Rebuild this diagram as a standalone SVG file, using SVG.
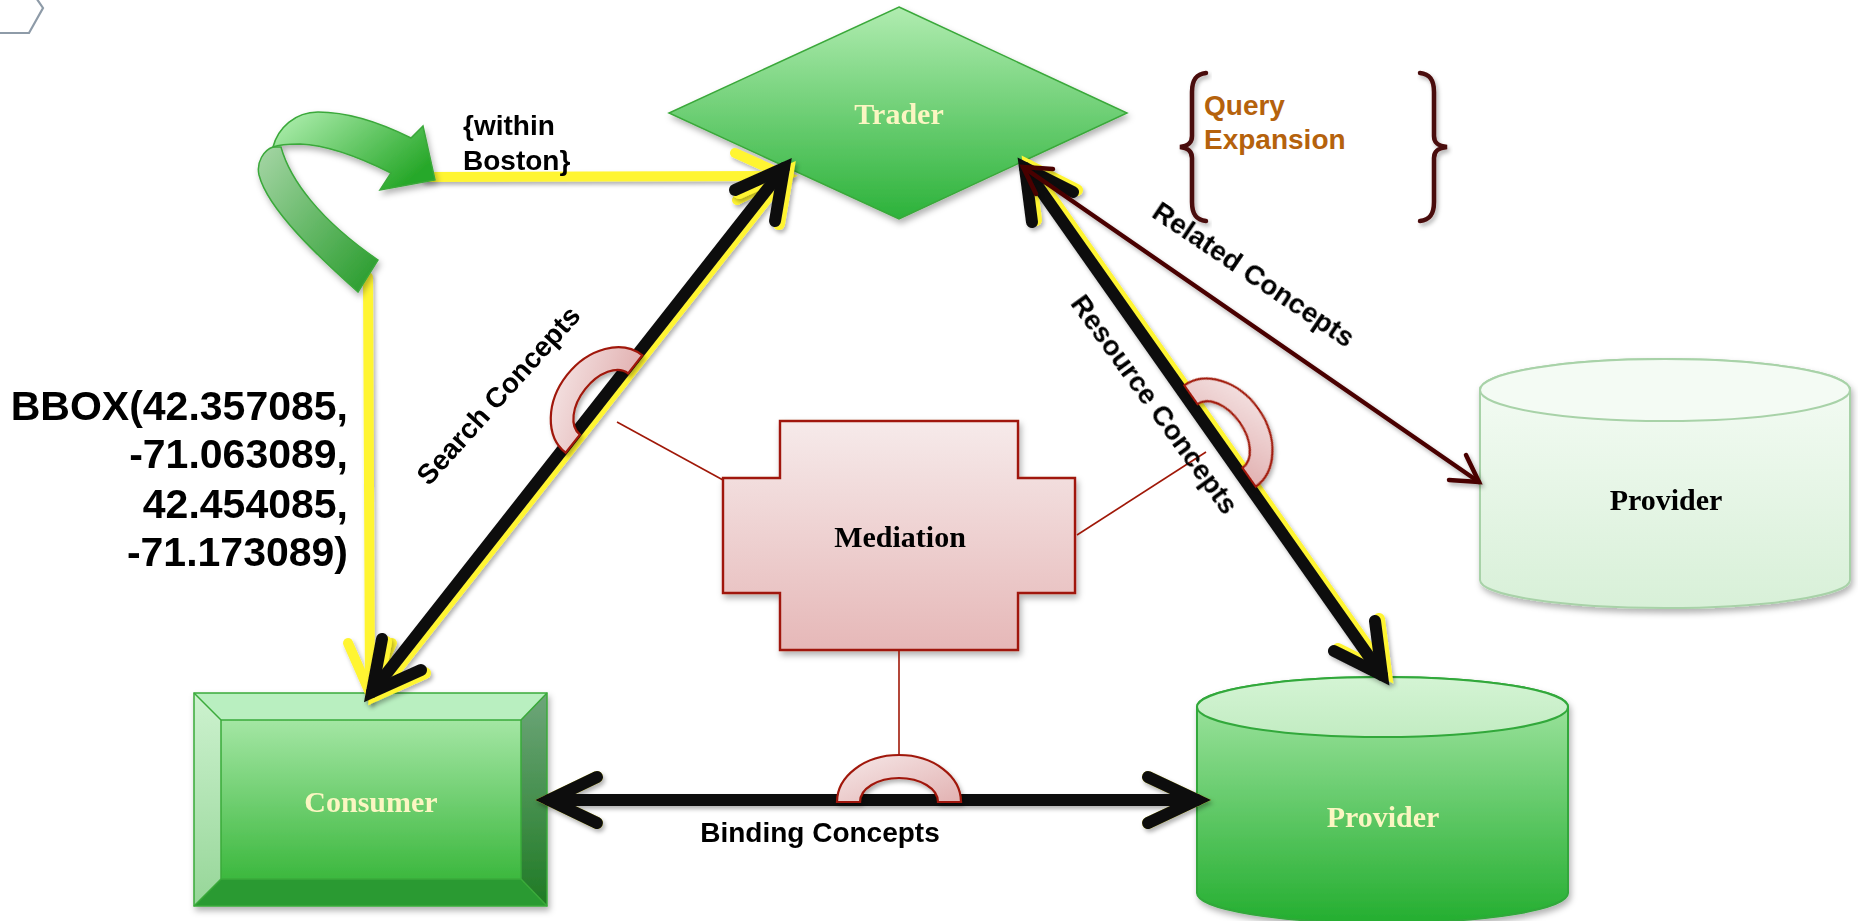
<svg xmlns="http://www.w3.org/2000/svg" xmlns:xlink="http://www.w3.org/1999/xlink" width="1858" height="921" viewBox="0 0 1858 921">
  <defs>
    <linearGradient id="gTrader" x1="0" y1="0" x2="0" y2="1">
      <stop offset="0" stop-color="#b0ecb0"/>
      <stop offset="1" stop-color="#2cb23a"/>
    </linearGradient>
    <linearGradient id="gFace" x1="0" y1="0" x2="0" y2="1">
      <stop offset="0" stop-color="#a4e6a4"/>
      <stop offset="1" stop-color="#3cb83e"/>
    </linearGradient>
    <linearGradient id="gLeft" x1="0" y1="0" x2="0" y2="1">
      <stop offset="0" stop-color="#cdf2cf"/>
      <stop offset="1" stop-color="#96d698"/>
    </linearGradient>
    <linearGradient id="gRight" x1="0" y1="0" x2="0" y2="1">
      <stop offset="0" stop-color="#6ea67a"/>
      <stop offset="1" stop-color="#1f7a24"/>
    </linearGradient>
    <linearGradient id="gCyl" x1="0" y1="0" x2="0" y2="1">
      <stop offset="0" stop-color="#a8e8a8"/>
      <stop offset="1" stop-color="#24ae30"/>
    </linearGradient>
    <linearGradient id="gCylTop" x1="0" y1="0" x2="0" y2="1">
      <stop offset="0" stop-color="#d4f4d4"/>
      <stop offset="1" stop-color="#c2ecc2"/>
    </linearGradient>
    <linearGradient id="gPale" x1="0" y1="0" x2="0" y2="1">
      <stop offset="0" stop-color="#f6fcf6"/>
      <stop offset="1" stop-color="#d8f0d8"/>
    </linearGradient>
    <linearGradient id="gMed" x1="0" y1="0" x2="0" y2="1">
      <stop offset="0" stop-color="#f6eaea"/>
      <stop offset="1" stop-color="#e6b8b8"/>
    </linearGradient>
    <linearGradient id="gRing" x1="0" y1="0" x2="1" y2="1">
      <stop offset="0" stop-color="#f6e8e8"/>
      <stop offset="1" stop-color="#e2b2b2"/>
    </linearGradient>
    <linearGradient id="gBandTop" x1="0" y1="0" x2="1" y2="0.6">
      <stop offset="0" stop-color="#b6f2b6"/>
      <stop offset="1" stop-color="#28a82a"/>
    </linearGradient>
    <linearGradient id="gBandLow" x1="0" y1="0" x2="1" y2="1">
      <stop offset="0" stop-color="#a6d6a6"/>
      <stop offset="1" stop-color="#249a28"/>
    </linearGradient>
    <filter id="shadow" x="-10%" y="-10%" width="130%" height="130%">
      <feDropShadow dx="2" dy="4" stdDeviation="3" flood-color="#000" flood-opacity="0.3"/>
    </filter>
    <filter id="lineShadow" x="-10%" y="-10%" width="130%" height="130%">
      <feDropShadow dx="2" dy="3" stdDeviation="2" flood-color="#000" flood-opacity="0.3"/>
    </filter>

    <!-- half ring used where mediation touches a concept flow -->
    <path id="halfRing" d="M-62,0 A62,47 0 0 1 62,0 L39,0 A39,24 0 0 0 -39,0 Z"/>

    <!-- thick two-headed flows (stroke colour inherited from the <use>) -->
    <g id="searchFlow">
      <line x1="372" y1="692" x2="784" y2="168"/>
      <polyline points="735,190 784,168 775,221"/>
      <polyline points="421,670 372,692 382,639"/>
    </g>
    <g id="resourceFlow">
      <line x1="1025" y1="168" x2="1382" y2="675"/>
      <polyline points="1032,222 1025,168 1073,192"/>
      <polyline points="1375,621 1382,675 1334,651"/>
    </g>
    <g id="bindingFlow">
      <line x1="549" y1="800" x2="1197" y2="800"/>
      <polyline points="597,777 549,800 597,823"/>
      <polyline points="1148,777 1197,800 1148,823"/>
    </g>
  </defs>

  <style>
    .lbl { font-family: "Liberation Sans", Arial, sans-serif; font-weight: bold; fill: #000; }
    .nodeTxt { font-family: "Liberation Serif", "Times New Roman", serif; font-weight: bold; font-size: 30px; text-anchor: middle; }
    .light { fill: #fbf6c2; }
    .dark { fill: #000; }
    .flow { fill: none; stroke-width: 12; stroke-linecap: round; stroke-linejoin: miter; }
    .yellow { fill: none; stroke: #fff533; stroke-width: 10; stroke-linecap: round; stroke-linejoin: miter; }
    .tie { fill: none; stroke: #a01808; stroke-width: 1.6; }
    .ring { fill: url(#gRing); stroke: #a01808; stroke-width: 2.2; }
    .brace { fill: none; stroke: #4a0808; stroke-width: 4.5; stroke-linecap: round; }
  </style>

  <rect width="1858" height="921" fill="#ffffff"/>

  <!-- corner hexagon fragment -->
  <polyline points="28,-14 43,8 29,33 0,33" fill="none" stroke="#8e9ba8" stroke-width="2.2"/>

  <!-- nodes -->
  <g id="trader" filter="url(#shadow)">
    <polygon points="899,7 1127,113 899,219 669,113" fill="url(#gTrader)" stroke="#3aa83a" stroke-width="1.5"/>
    <text class="nodeTxt light" x="899" y="124">Trader</text>
  </g>

  <g id="consumer" filter="url(#shadow)">
    <rect x="221" y="720" width="300" height="159" fill="url(#gFace)"/>
    <polygon points="194,693 547,693 521,720 221,720" fill="#b9efc0"/>
    <polygon points="194,693 221,720 221,879 194,906" fill="url(#gLeft)"/>
    <polygon points="547,693 547,906 521,879 521,720" fill="url(#gRight)"/>
    <polygon points="194,906 221,879 521,879 547,906" fill="#2a9a30"/>
    <g fill="none" stroke="#3aaa3a" stroke-width="1.5">
      <rect x="194" y="693" width="353" height="213"/>
      <rect x="221" y="720" width="300" height="159"/>
      <path d="M194,693 L221,720 M547,693 L521,720 M194,906 L221,879 M547,906 L521,879"/>
    </g>
    <text class="nodeTxt light" x="371" y="812">Consumer</text>
  </g>

  <g id="provider" filter="url(#shadow)">
    <path d="M1197,707 L1197,893 A185.5,30 0 0 0 1568,893 L1568,707 A185.5,30 0 0 0 1197,707 Z" fill="url(#gCyl)" stroke="#30a83a" stroke-width="2"/>
    <ellipse cx="1382.5" cy="707" rx="185.5" ry="30" fill="url(#gCylTop)" stroke="#30a83a" stroke-width="2"/>
    <text class="nodeTxt light" x="1383" y="827">Provider</text>
  </g>

  <g id="provider-related" filter="url(#shadow)">
    <path d="M1480,390 L1480,580 A185,28 0 0 0 1850,580 L1850,390 A185,31 0 0 0 1480,390 Z" fill="url(#gPale)" stroke="#a8d2a8" stroke-width="2"/>
    <ellipse cx="1665" cy="390" rx="185" ry="31" fill="#f4fbf4" stroke="#a8d2a8" stroke-width="2"/>
    <text class="nodeTxt dark" x="1666" y="510">Provider</text>
  </g>

  <g id="mediation" filter="url(#shadow)">
    <polygon points="780,421 1018,421 1018,478 1075,478 1075,593 1018,593 1018,650 780,650 780,593 723,593 723,478 780,478" fill="url(#gMed)" stroke="#a01808" stroke-width="2.4"/>
    <text class="nodeTxt dark" x="900" y="547">Mediation</text>
  </g>

  <g id="query-expansion">
    <path class="brace" filter="url(#lineShadow)" d="M1206,73 C1196,74 1192,80 1192,92 L1192,136 C1192,143 1188,146 1180,147 C1188,148 1192,151 1192,158 L1192,202 C1192,214 1196,220 1206,221"/>
    <path class="brace" filter="url(#lineShadow)" d="M1420,73 C1430,74 1434,80 1434,92 L1434,136 C1434,143 1438,146 1447,147 C1438,148 1434,151 1434,158 L1434,202 C1434,214 1430,220 1420,221"/>
    <text class="lbl" x="1204" y="115" font-size="28" style="fill:#b5620c">Query</text>
    <text class="lbl" x="1204" y="149" font-size="28" style="fill:#b5620c">Expansion</text>
  </g>

  <!-- connectors -->
  <g id="connectors">
    <!-- spatial query refinement: yellow flows -->
    <g filter="url(#lineShadow)">
      <line class="yellow" x1="425" y1="177" x2="784" y2="176"/>
      <polyline class="yellow" points="735,153 786,176 737,200"/>
      <line class="yellow" x1="368" y1="277" x2="370" y2="690"/>
      <polyline class="yellow" points="348,643 370,693 392,643"/>
    </g>

    <!-- curved green refinement arrow -->
    <g id="refine-arrow" filter="url(#shadow)" stroke="#3aa83a" stroke-width="1.5">
      <path d="M358,292 C320,258 268,210 259,175 C256,162 264,150 273,147 L281,147 C290,180 320,220 378,260 Z" fill="url(#gBandLow)"/>
      <path d="M273,147 C278,128 295,112 318,112 C350,112 385,125 411,138 L423,126 L435,180 L380,190 L391,173 C365,160 330,145 300,144 C288,144 278,145 273,147 Z" fill="url(#gBandTop)"/>
    </g>

    <!-- concept flows between the three roles -->
    <g filter="url(#lineShadow)">
      <use xlink:href="#searchFlow" class="flow" stroke="#fff533" transform="translate(4,3)"/>
      <use xlink:href="#searchFlow" class="flow" stroke="#111111"/>
      <use xlink:href="#resourceFlow" class="flow" stroke="#fff533" transform="translate(4,-2)"/>
      <use xlink:href="#resourceFlow" class="flow" stroke="#111111"/>
      <use xlink:href="#bindingFlow" class="flow" stroke="#fff533" stroke-width="14"/>
      <use xlink:href="#bindingFlow" class="flow" stroke="#111111"/>
    </g>

    <!-- related concepts: maroon two-headed arrow -->
    <g fill="none" stroke="#4a0505" stroke-width="4.5" stroke-linecap="round" filter="url(#lineShadow)">
      <line x1="1023" y1="167" x2="1479" y2="482"/>
      <polyline points="1036,194 1023,167 1053,169"/>
      <polyline points="1466,455 1479,482 1449,480"/>
    </g>

    <!-- mediation ties -->
    <line class="tie" x1="617" y1="422" x2="723" y2="480"/>
    <line class="tie" x1="1077" y1="535" x2="1206" y2="452"/>
    <line class="tie" x1="899" y1="650" x2="899" y2="755"/>

    <g filter="url(#lineShadow)">
      <use xlink:href="#halfRing" class="ring" transform="translate(604,404) rotate(-51.8)"/>
      <use xlink:href="#halfRing" class="ring" transform="translate(1220,436) rotate(54.8)"/>
      <use xlink:href="#halfRing" class="ring" transform="translate(899,802)"/>
    </g>
  </g>

  <!-- labels -->
  <g id="labels">
    <text class="lbl" x="463" y="135" font-size="28">{within</text>
    <text class="lbl" x="463" y="170" font-size="28">Boston}</text>
    <g class="lbl" font-size="41" text-anchor="end">
      <text x="348" y="420">BBOX(42.357085,</text>
      <text x="348" y="468">-71.063089,</text>
      <text x="348" y="518">42.454085,</text>
      <text x="348" y="566">-71.173089)</text>
    </g>
    <text class="lbl" font-size="28" text-anchor="middle" transform="translate(498,395) rotate(-48)" y="10">Search Concepts</text>
    <text class="lbl" font-size="28" text-anchor="middle" transform="translate(1155,404) rotate(54)" y="10">Resource Concepts</text>
    <text class="lbl" font-size="28" text-anchor="middle" transform="translate(1254,274) rotate(34)" y="10">Related Concepts</text>
    <text class="lbl" font-size="28" text-anchor="middle" x="820" y="842">Binding Concepts</text>
  </g>
</svg>
